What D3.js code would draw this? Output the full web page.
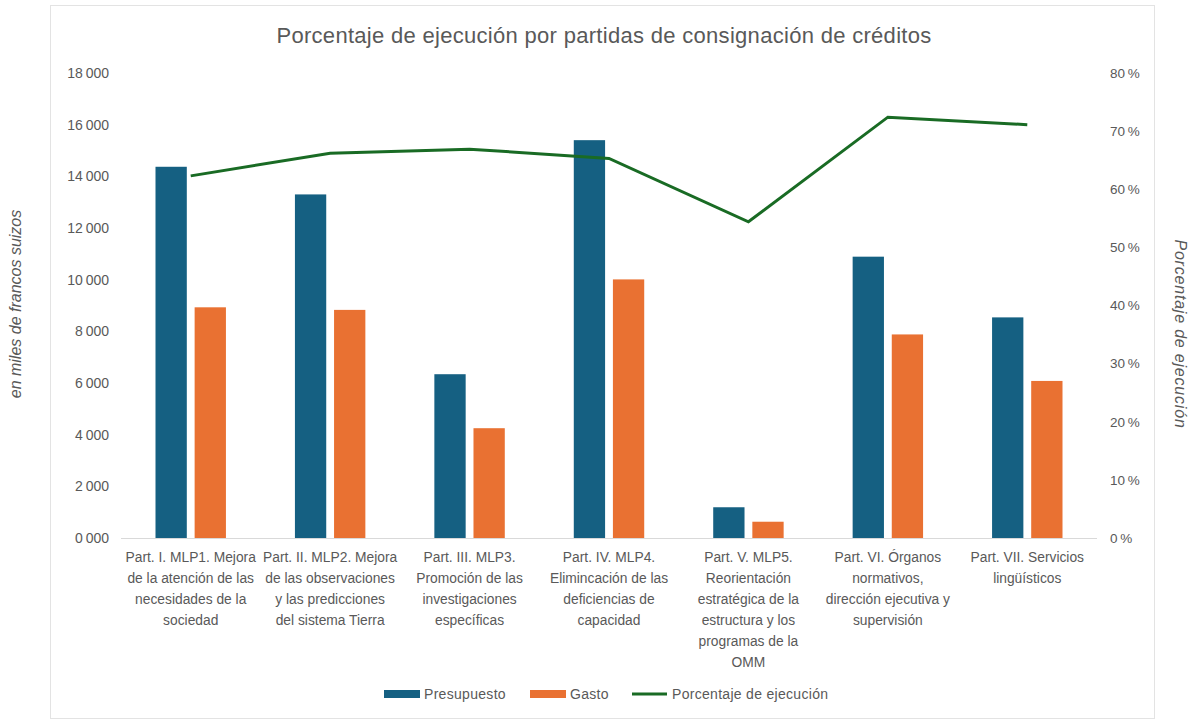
<!DOCTYPE html>
<html lang="es">
<head>
  <meta charset="UTF-8">
  <title>Porcentaje de ejecución</title>
  <script src="https://cdn.jsdelivr.net/npm/d3@7"></script>
  <style>
    body { margin: 0; background: #fff; }
    svg text { font-family: "Liberation Sans", "DejaVu Sans", sans-serif; fill: #595959; }
  </style>
</head>
<body>
  <div id="chart"></div>

  <script>
    // datos
    const categories = [
      ["Part. I. MLP1. Mejora", "de la atención de las", "necesidades de la", "sociedad"],
      ["Part. II. MLP2. Mejora", "de las observaciones", "y las predicciones", "del sistema Tierra"],
      ["Part. III. MLP3.", "Promoción de las", "investigaciones", "específicas"],
      ["Part. IV. MLP4.", "Elimincación de las", "deficiencias de", "capacidad"],
      ["Part. V. MLP5.", "Reorientación", "estratégica de la", "estructura y los", "programas de la", "OMM"],
      ["Part. VI. Órganos", "normativos,", "dirección ejecutiva y", "supervisión"],
      ["Part. VII. Servicios", "lingüísticos"]
    ];
    const presupuesto = [14370, 13300, 6340, 15400, 1190, 10890, 8540];
    const gasto = [8930, 8830, 4250, 10010, 630, 7880, 6080];
    const porcentaje = [62.3, 66.2, 66.9, 65.3, 54.4, 72.4, 71.1];
    const leftTicks = [0, 2000, 4000, 6000, 8000, 10000, 12000, 14000, 16000, 18000];
    const leftTickLabels = ["0\u2009000", "2\u2009000", "4\u2009000", "6\u2009000", "8\u2009000", "10\u2009000", "12\u2009000", "14\u2009000", "16\u2009000", "18\u2009000"];
    const rightTicks = [0, 10, 20, 30, 40, 50, 60, 70, 80];
    const seriesNames = ["Presupuesto", "Gasto", "Porcentaje de ejecución"];

    const width = 1192, height = 722;
    const plotL = 121, plotR = 1097, plotT = 73, plotB = 538;
    const colors = ["#156082", "#e97132", "#196b24"];

    const svg = d3.select("#chart").append("svg")
      .attr("width", width)
      .attr("height", height);

    // marco del grafico
    svg.append("rect")
      .attr("x", 50.5).attr("y", 5.5)
      .attr("width", 1104).attr("height", 713)
      .attr("fill", "none").attr("stroke", "#e3e3e3");

    const x0 = d3.scaleBand().domain(d3.range(categories.length)).range([plotL, plotR]);
    const x1 = d3.scaleBand().domain([0, 1]).range([34.5, x0.bandwidth() - 34.5]).paddingInner(0.2);
    const y = d3.scaleLinear().domain([0, 18000]).range([plotB, plotT]);
    const y2 = d3.scaleLinear().domain([0, 80]).range([plotB, plotT]);

    // titulo
    svg.append("text")
      .attr("x", 604).attr("y", 43)
      .attr("text-anchor", "middle")
      .style("font-size", "22px")
      .style("letter-spacing", "0.3px")
      .text("Porcentaje de ejecución por partidas de consignación de créditos");

    // eje izquierdo
    const yAxis = svg.append("g")
      .attr("transform", "translate(109,0)")
      .call(d3.axisLeft(y).tickValues(leftTicks).tickSize(0).tickPadding(0)
        .tickFormat((d, i) => leftTickLabels[i]));
    yAxis.select(".domain").remove();
    yAxis.selectAll("text").style("font-size", "14px").attr("fill", "#595959");

    // eje derecho
    const y2Axis = svg.append("g")
      .attr("transform", "translate(1110,0)")
      .call(d3.axisRight(y2).tickValues(rightTicks).tickSize(0).tickPadding(0)
        .tickFormat(d => d + "\u2009%"));
    y2Axis.select(".domain").remove();
    y2Axis.selectAll("text").style("font-size", "13.5px").attr("fill", "#595959");

    // titulos de ejes
    svg.append("text")
      .attr("transform", "translate(21,304) rotate(-90)")
      .attr("text-anchor", "middle")
      .style("font-size", "16px").style("font-style", "italic")
      .text("en miles de francos suizos");
    svg.append("text")
      .attr("transform", "translate(1175,334) rotate(90)")
      .attr("text-anchor", "middle")
      .style("font-size", "16px").style("font-style", "italic")
      .style("letter-spacing", "0.8px")
      .text("Porcentaje de ejecución");

    // barras
    const groups = svg.selectAll("g.grupo")
      .data(categories.map((c, i) => [presupuesto[i], gasto[i]]))
      .enter().append("g")
      .attr("class", "grupo")
      .attr("transform", (d, i) => "translate(" + x0(i) + ",0)");

    groups.selectAll("rect")
      .data(d => d)
      .enter().append("rect")
      .attr("x", (d, j) => x1(j))
      .attr("y", d => y(d))
      .attr("width", x1.bandwidth())
      .attr("height", d => y(0) - y(d))
      .attr("fill", (d, j) => colors[j]);

    // linea base
    svg.append("line")
      .attr("x1", plotL).attr("x2", plotR)
      .attr("y1", plotB + 0.5).attr("y2", plotB + 0.5)
      .attr("stroke", "#d9d9d9");

    // linea de porcentaje
    const line = d3.line()
      .x((d, i) => x0(i) + x0.bandwidth() / 2)
      .y(d => y2(d));
    svg.append("path")
      .datum(porcentaje)
      .attr("d", line)
      .attr("fill", "none")
      .attr("stroke", colors[2])
      .attr("stroke-width", 3);

    // etiquetas de categorias
    const catLabels = svg.selectAll("text.cat")
      .data(categories)
      .enter().append("text")
      .attr("class", "cat")
      .attr("text-anchor", "middle")
      .style("font-size", "13.8px");
    catLabels.selectAll("tspan")
      .data((d, i) => d.map(t => ({ t, i })))
      .enter().append("tspan")
      .attr("x", d => x0(d.i) + x0.bandwidth() / 2)
      .attr("y", (d, k) => 562 + k * 21)
      .text(d => d.t);

    // leyenda
    const legend = svg.append("g");
    const legendX = [384, 530, 632];
    seriesNames.forEach((name, i) => {
      if (i < 2) {
        legend.append("rect")
          .attr("x", legendX[i]).attr("y", 690)
          .attr("width", 36).attr("height", 8)
          .attr("fill", colors[i]);
      } else {
        legend.append("line")
          .attr("x1", legendX[i]).attr("x2", legendX[i] + 35)
          .attr("y1", 694).attr("y2", 694)
          .attr("stroke", colors[i]).attr("stroke-width", 3);
      }
      legend.append("text")
        .attr("x", legendX[i] + 40).attr("y", 699)
        .style("font-size", "14px")
        .style("letter-spacing", "0.3px")
        .text(name);
    });
  </script>
</body>
</html>
